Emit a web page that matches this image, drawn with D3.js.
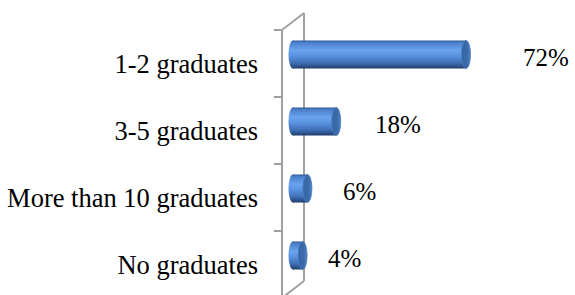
<!DOCTYPE html>
<html>
<head>
<meta charset="utf-8">
<script src="https://cdn.jsdelivr.net/npm/d3@7"></script>
<style>
html,body{margin:0;padding:0;background:#fff;}
svg{display:block;}
</style>
</head>
<body>
<script>
const categories = ["1-2 graduates", "3-5 graduates", "More than 10 graduates", "No graduates"];
const values = [72, 18, 6, 4];
const valueLabels = ["72%", "18%", "6%", "4%"];

const W = 575, H = 295;
const svg = d3.select("body").append("svg").attr("width", W).attr("height", H);

const defs = svg.append("defs");
const grad = defs.append("linearGradient").attr("id", "cyl").attr("x1", 0).attr("y1", 0).attr("x2", 0).attr("y2", 1);
[[0, "#2f5a94"], [0.08, "#4a80cc"], [0.35, "#6aa3ee"], [0.55, "#5a92e0"], [0.8, "#3f6fb6"], [0.93, "#2b4f86"], [1, "#1f3b66"]]
  .forEach(([o, c]) => grad.append("stop").attr("offset", o).attr("stop-color", c));
const capGrad = defs.append("linearGradient").attr("id", "cap").attr("x1", 0).attr("y1", 0).attr("x2", 1).attr("y2", 0);
[[0, "#3466a8"], [0.6, "#3b6aa8"], [1, "#4f82c4"]]
  .forEach(([o, c]) => capGrad.append("stop").attr("offset", o).attr("stop-color", c));

const y = d3.scaleBand().domain(categories).range([30, 298]).padding(0);
const x = d3.scaleLinear().domain([0, 72]).range([293, 466]);
const labelX = d3.scaleLinear().domain([4, 6, 18, 72]).range([328, 343, 375, 523]);

const frontX = 282, backX = 304, depth = 17;
const axisColor = "#a0a0a0";

// wall / axis
const g = svg.append("g");
g.append("line").attr("x1", backX).attr("x2", backX).attr("y1", y.range()[0] - depth).attr("y2", y.range()[1] - depth)
  .attr("stroke", axisColor).attr("stroke-width", 2);
g.append("line").attr("x1", frontX).attr("x2", frontX).attr("y1", y.range()[0]).attr("y2", y.range()[1])
  .attr("stroke", axisColor).attr("stroke-width", 2);
g.append("line").attr("x1", frontX).attr("x2", backX).attr("y1", y.range()[0]).attr("y2", y.range()[0] - depth)
  .attr("stroke", axisColor).attr("stroke-width", 2);
g.append("line").attr("x1", frontX).attr("x2", backX).attr("y1", y.range()[1]).attr("y2", y.range()[1] - depth)
  .attr("stroke", axisColor).attr("stroke-width", 2);
// ticks at band boundaries
g.selectAll("line.tick").data(categories).enter().append("line").attr("class", "tick")
  .attr("x1", frontX - 8).attr("x2", frontX).attr("y1", d => y(d)).attr("y2", d => y(d))
  .attr("stroke", axisColor).attr("stroke-width", 2);

// category labels
svg.selectAll("text.cat").data(categories).enter().append("text").attr("class", "cat")
  .attr("x", 258).attr("y", d => y(d) + y.bandwidth() / 2 + 9)
  .attr("text-anchor", "end")
  .attr("font-family", "'Liberation Serif', 'Times New Roman', serif").attr("font-size", 26.5)
  .attr("fill", "#000").text(d => d);

// bars (cylinders)
const bh = 28, ry = bh / 2, rx = 4.5;
const bars = svg.selectAll("g.bar").data(values).enter().append("g").attr("class", "bar");
const cy = (d, i) => y(categories[i]) + y.bandwidth() / 2 - 9;
bars.append("ellipse").attr("cx", x(0)).attr("cy", cy).attr("rx", rx).attr("ry", ry).attr("fill", "url(#cyl)");
bars.append("rect").attr("x", x(0)).attr("y", (d, i) => cy(d, i) - ry).attr("width", d => x(d) - x(0)).attr("height", bh)
  .attr("fill", "url(#cyl)");
bars.append("ellipse").attr("cx", d => x(d)).attr("cy", cy).attr("rx", rx).attr("ry", ry)
  .attr("fill", "url(#cap)").attr("stroke", "#4a7bbd").attr("stroke-width", 0.8);

// value labels
svg.selectAll("text.val").data(values).enter().append("text").attr("class", "val")
  .attr("x", d => labelX(d)).attr("y", (d, i) => cy(d, i) + 11)
  .attr("font-family", "'Liberation Serif', 'Times New Roman', serif").attr("font-size", 25)
  .attr("fill", "#000").text((d, i) => valueLabels[i]);
</script>
</body>
</html>
